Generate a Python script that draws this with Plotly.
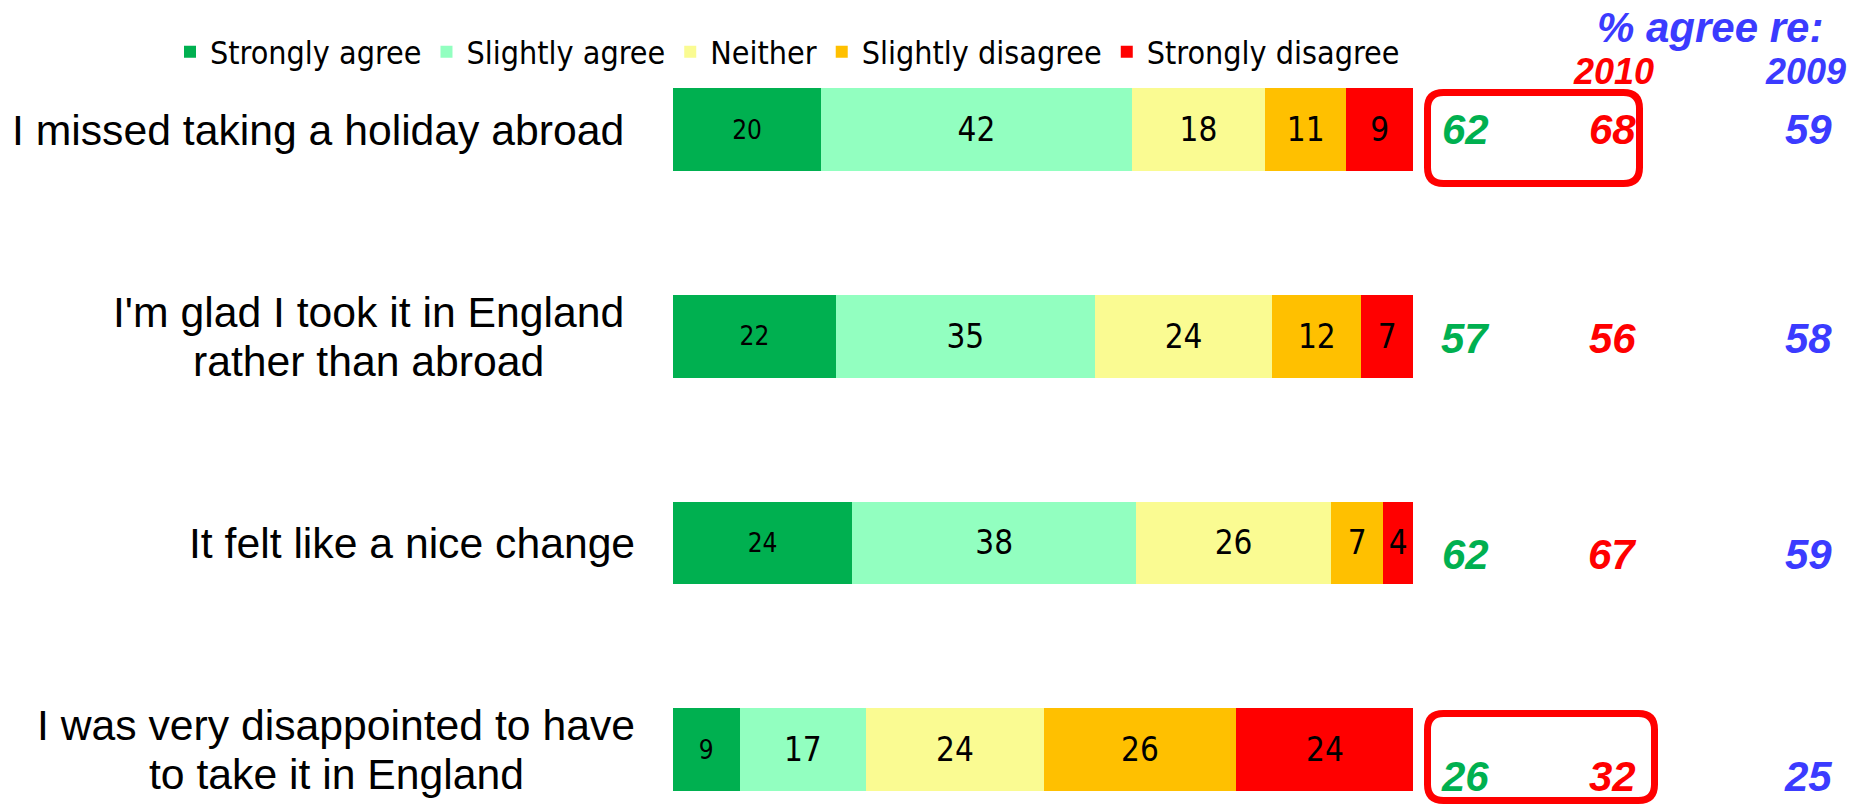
import plotly.graph_objects as go

# ---------------- data ----------------
statements = [
    "I missed taking a holiday abroad",
    "I'm glad I took it in England<br>rather than abroad",
    "It felt like a nice change",
    "I was very disappointed to have<br>to take it in England",
]
series_names = ["Strongly agree", "Slightly agree", "Neither", "Slightly disagree", "Strongly disagree"]
strongly_agree = [20, 22, 24.2, 9]
slightly_agree = [42, 35, 38.4, 17.1]
neither = [18, 24, 26.3, 24]
slightly_disagree = [11, 12, 7.1, 26]
strongly_disagree = [9, 7, 4.0, 24]

agree_now = [62, 57, 62, 26]
agree_2010 = [68, 56, 67, 32]
agree_2009 = [59, 58, 59, 25]

# ---------------- style ----------------
OFF = 8                      # page body margin
W, H = 1862 - OFF, 805 - OFF
colors = ["#00B050", "#92FFC0", "#FAFB92", "#FFC000", "#FF0000"]
seg_font = "Tahoma, 'DejaVu Sans Condensed', 'DejaVu Sans', sans-serif"
arial = "Arial, 'Liberation Sans', sans-serif"

def px(x):
    return (x - OFF) / W

def py(y):
    return 1 - (y - OFF) / H

fig = go.Figure()
values = [strongly_agree, slightly_agree, neither, slightly_disagree, strongly_disagree]
for i, (name, vals) in enumerate(zip(series_names, values)):
    fig.add_trace(go.Bar(
        y=statements, x=vals, name=name, orientation="h",
        marker=dict(color=colors[i], line=dict(width=0)),
        width=0.4,
        text=[f"{v:.0f}" for v in vals],
        textposition="inside", insidetextanchor="middle",
        textfont=dict(family=seg_font, size=26 if i == 0 else 33, color="black"),
        hoverinfo="skip",
    ))

# row positions (screen pixel centres) -> axis range
top_c, step = 129.5 - OFF, 206.67
a = -top_c / step
b = a + H / step

fig.update_layout(
    width=W, height=H,
    margin=dict(l=0, r=0, t=0, b=0),
    barmode="stack",
    plot_bgcolor="white", paper_bgcolor="white",
    xaxis=dict(domain=[px(673), px(1413)], range=[0, 100], visible=False, fixedrange=True),
    yaxis=dict(domain=[0, 1], range=[b, a], visible=False, type="category",
               categoryorder="array", categoryarray=statements, fixedrange=True),
    legend=dict(orientation="h", x=px(170), xanchor="left", y=py(52), yanchor="middle",
                font=dict(family=seg_font, size=32, color="black"),
                traceorder="normal", bgcolor="rgba(0,0,0,0)", itemclick=False),
    showlegend=True,
)

annotations = []
label_center = [318, 368, 412, 336]
line_pitch = 49
for s, xc in zip(statements, label_center):
    lines = s.split("<br>")
    n = len(lines)
    for k, ln in enumerate(lines):
        shift = -(k - (n - 1) / 2) * line_pitch
        annotations.append(dict(x=px(xc), xref="paper", y=s, yref="y", yshift=shift,
                                text=ln, showarrow=False,
                                xanchor="center", yanchor="middle",
                                font=dict(family=arial, size=42.7, color="black")))

num_shift = [0, -2, -12, -27]
cols = [(1465, agree_now, "#00B050"), (1612, agree_2010, "#FF0000"), (1808, agree_2009, "#3B3BFF")]
for xc, vals, col in cols:
    for s, v, sh in zip(statements, vals, num_shift):
        annotations.append(dict(x=px(xc), xref="paper", y=s, yref="y", yshift=sh,
                                text=f"<b><i>{v}</i></b>", showarrow=False,
                                xanchor="center", yanchor="middle",
                                font=dict(family=arial, size=42, color=col)))

annotations += [
    dict(x=px(1710), y=py(28), xref="paper", yref="paper", text="<b><i>% agree re:</i></b>",
         showarrow=False, xanchor="center", yanchor="middle",
         font=dict(family=arial, size=42, color="#3B3BFF")),
    dict(x=px(1613), y=py(72), xref="paper", yref="paper", text="<b><i>2010</i></b>",
         showarrow=False, xanchor="center", yanchor="middle",
         font=dict(family=arial, size=36, color="#FF0000")),
    dict(x=px(1805), y=py(72), xref="paper", yref="paper", text="<b><i>2009</i></b>",
         showarrow=False, xanchor="center", yanchor="middle",
         font=dict(family=arial, size=36, color="#3B3BFF")),
]
fig.update_layout(annotations=annotations)

def rounded_box(x0, y0, x1, y1, r):
    pts = []
    pts.append(f"M {px(x0 + r)},{py(y0)}")
    pts.append(f"L {px(x1 - r)},{py(y0)}")
    pts.append(f"Q {px(x1)},{py(y0)} {px(x1)},{py(y0 + r)}")
    pts.append(f"L {px(x1)},{py(y1 - r)}")
    pts.append(f"Q {px(x1)},{py(y1)} {px(x1 - r)},{py(y1)}")
    pts.append(f"L {px(x0 + r)},{py(y1)}")
    pts.append(f"Q {px(x0)},{py(y1)} {px(x0)},{py(y1 - r)}")
    pts.append(f"L {px(x0)},{py(y0 + r)}")
    pts.append(f"Q {px(x0)},{py(y0)} {px(x0 + r)},{py(y0)} Z")
    return " ".join(pts)

for box in [(1427.5, 92.5, 1639.5, 183.5), (1427.5, 713.5, 1654.5, 800.5)]:
    fig.add_shape(type="path", xref="paper", yref="paper", path=rounded_box(*box, 16),
                  line=dict(color="#FF0000", width=7), fillcolor="rgba(0,0,0,0)")

fig.write_html("out.html")
